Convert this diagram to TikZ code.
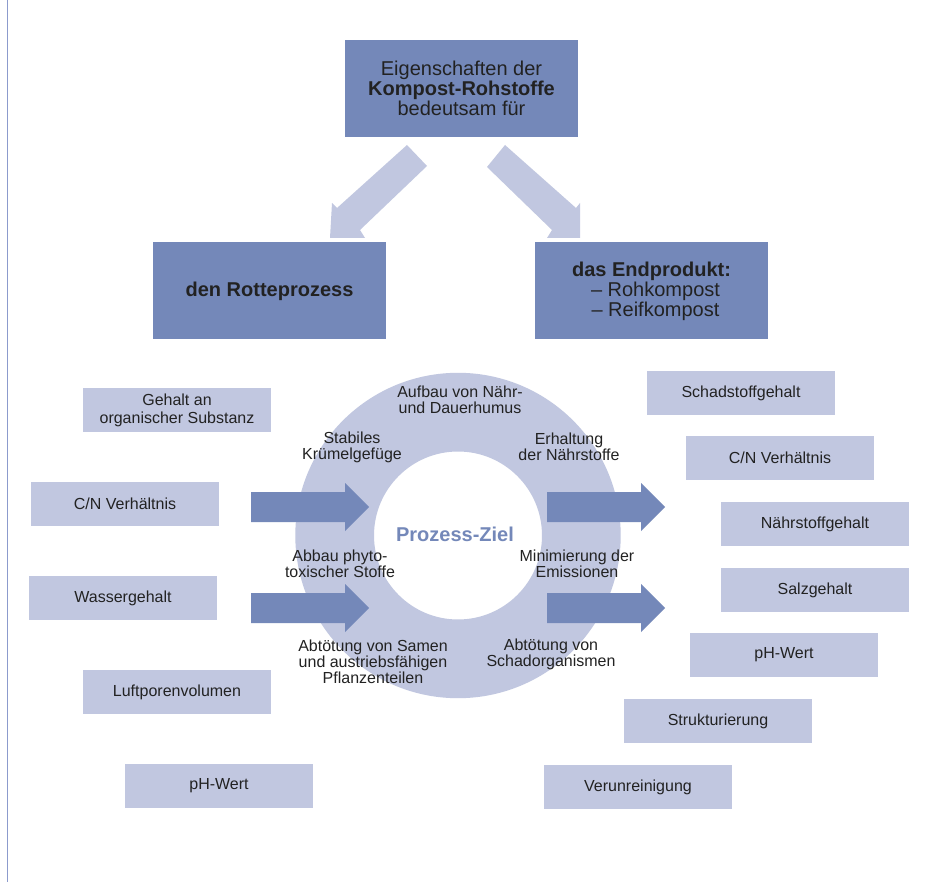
\documentclass[tikz,border=0pt]{standalone}
\usepackage{fontspec}
\setmainfont{Liberation Sans}
\definecolor{darkblue}{RGB}{116,136,185}
\definecolor{lightblue}{RGB}{193,199,224}
\definecolor{txt}{RGB}{34,34,34}
\definecolor{border}{RGB}{140,155,205}
\begin{document}
\begin{tikzpicture}[x=1pt,y=-1pt,
  bigbox/.style={fill=darkblue,draw=none,minimum width=233pt,minimum height=97pt,inner sep=0pt,align=center,text=txt,font=\fontsize{20}{20}\selectfont},
  smallbox/.style={fill=lightblue,draw=none,minimum width=188pt,minimum height=44pt,inner sep=0pt,align=center,text=txt,font=\fontsize{16}{18}\selectfont},
  ringtext/.style={inner sep=0pt,align=center,text=txt,font=\fontsize{16}{16}\selectfont},
  darrow/.style={fill=darkblue,draw=none},
  larrow/.style={fill=lightblue,draw=none}]
\useasboundingbox (0,0) rectangle (932,882);
\fill[white] (0,0) rectangle (932,882);
\draw[border,line width=1pt] (7,0) -- (7,882);

% top boxes
\node[bigbox] (top) at (461.5,88.5) {Eigenschaften der\\\textbf{Kompost-Rohstoffe}\\bedeutsam für};
\node[bigbox] (rotte) at (269.5,291) {\textbf{den Rotteprozess}};
\node[bigbox] (endp) at (651.5,291) {\textbf{das Endprodukt:}\\\hspace*{8pt}– Rohkompost\\\hspace*{8pt}– Reifkompost};

% light arrows
\fill[larrow] (407,145) -- (427,166) -- (360,230) -- (365,238) -- (330,238) -- (332,203) -- (337,208) -- cycle;
\fill[larrow] (505,145) -- (487,167) -- (552,230) -- (547,238) -- (580,238) -- (580,203) -- (576,208) -- cycle;

% ring
\coordinate (rc) at (458,535.5);
\fill[lightblue,even odd rule] (rc) circle[radius=162.7] (rc) circle[radius=84];

% dark arrows
\fill[darrow] (251,492) -- (345,492) -- (345,483) -- (369,507) -- (345,531) -- (345,522) -- (251,522) -- cycle;
\fill[darrow] (251,593) -- (345,593) -- (345,584) -- (369,608) -- (345,632) -- (345,623) -- (251,623) -- cycle;
\fill[darrow] (547,492) -- (641,492) -- (641,483) -- (665,507) -- (641,531) -- (641,522) -- (547,522) -- cycle;
\fill[darrow] (547,593) -- (641,593) -- (641,584) -- (665,608) -- (641,632) -- (641,623) -- (547,623) -- cycle;

% ring texts
\node[ringtext] (t1) at (460,400) {Aufbau von Nähr-\\und Dauerhumus};
\node[ringtext] (t2) at (352,447) {Stabiles\\Krümelgefüge};
\node[ringtext] (t3) at (569,447) {Erhaltung\\der Nährstoffe};
\node[inner sep=0pt,text=darkblue,font=\fontsize{20}{20}\selectfont\bfseries] (ziel) at (455,534) {Prozess-Ziel};
\node[ringtext] (t4) at (340,564) {Abbau phyto-\\toxischer Stoffe};
\node[ringtext] (t5) at (577,564) {Minimierung der\\Emissionen};
\node[ringtext] (t6) at (373,662) {Abtötung von Samen\\und austriebsfähigen\\Pflanzenteilen};
\node[ringtext] (t7) at (551,654) {Abtötung von\\Schadorganismen};

% left boxes
\node[smallbox] (l1) at (177,410) {Gehalt an\\organischer Substanz};
\node[smallbox] (l2) at (125,504) {C/N Verhältnis};
\node[smallbox] (l3) at (123,598) {Wassergehalt};
\node[smallbox] (l4) at (177,692) {Luftporenvolumen};
\node[smallbox] (l5) at (219,786) {pH-Wert};

% right boxes
\node[smallbox] (r1) at (741,393) {Schadstoffgehalt};
\node[smallbox] (r2) at (780,458) {C/N Verhältnis};
\node[smallbox] (r3) at (815,524) {Nährstoffgehalt};
\node[smallbox] (r4) at (815,590) {Salzgehalt};
\node[smallbox] (r5) at (784,655) {pH-Wert};
\node[smallbox] (r6) at (718,721) {Strukturierung};
\node[smallbox] (r7) at (638,787) {Verunreinigung};
\end{tikzpicture}
\end{document}
